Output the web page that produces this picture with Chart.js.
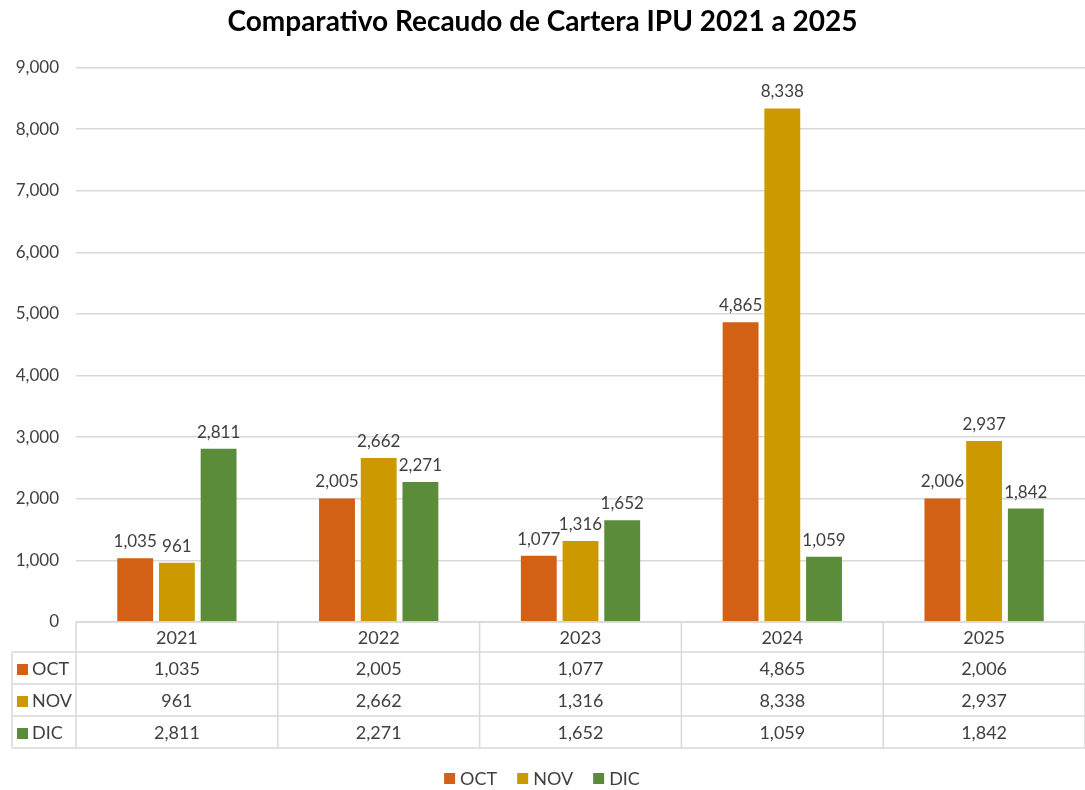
<!DOCTYPE html>
<html>
<head>
<meta charset="utf-8">
<script src="https://cdn.jsdelivr.net/npm/chart.js@4"></script>
<style>
  html, body { margin: 0; padding: 0; background: #fff; }
  #wrap { width: 1085px; height: 790px; }
</style>
</head>
<body>
<div id="wrap"><canvas id="myChart" width="1085" height="790"></canvas></div>
<script>
// datos
const years = ["2021", "2022", "2023", "2024", "2025"];
const octValues = [1035, 2005, 1077, 4865, 2006];
const novValues = [961, 2662, 1316, 8338, 2937];
const dicValues = [2811, 2271, 1652, 1059, 1842];

const seriesNames = ["OCT", "NOV", "DIC"];
const seriesColors = ["#D26015", "#CC9900", "#5B8C3A"];

const FONT = "Lato, 'Open Sans', sans-serif";
const TEXT = "#404040";
const LINE = "#D9D9D9";

const fmt = (v) => v.toLocaleString("en-US");

// valores encima de las barras
const barLabels = {
  id: "barLabels",
  afterDatasetsDraw(chart) {
    const ctx = chart.ctx;
    ctx.save();
    ctx.font = "17px " + FONT;
    ctx.fillStyle = TEXT;
    ctx.textAlign = "center";
    ctx.textBaseline = "bottom";
    chart.data.datasets.forEach((ds, i) => {
      chart.getDatasetMeta(i).data.forEach((bar, j) => {
        ctx.fillText(fmt(ds.data[j]), bar.x, bar.y - 8);
      });
    });
    ctx.restore();
  },
};

// tabla de datos debajo del eje + leyenda
const dataTable = {
  id: "dataTable",
  afterDraw(chart) {
    const ctx = chart.ctx;
    const x = chart.scales.x;
    const area = chart.chartArea;
    const top = area.bottom;
    const rowH = [30, 32, 32, 32];
    const left = 12;
    const right = area.right;
    const catW = (area.right - area.left) / years.length;

    let ys = [top];
    rowH.forEach((h) => ys.push(ys[ys.length - 1] + h));

    ctx.save();
    ctx.strokeStyle = LINE;
    ctx.lineWidth = 1.5;
    ctx.beginPath();
    // horizontales
    ctx.moveTo(area.left, ys[0]); ctx.lineTo(right, ys[0]);
    for (let r = 1; r < ys.length; r++) {
      ctx.moveTo(left, ys[r]); ctx.lineTo(right, ys[r]);
    }
    // verticales
    ctx.moveTo(left, ys[1]); ctx.lineTo(left, ys[4]);
    for (let c = 0; c <= years.length; c++) {
      const vx = area.left + c * catW;
      ctx.moveTo(vx, ys[0]); ctx.lineTo(vx, ys[4]);
    }
    ctx.stroke();

    ctx.font = "18px " + FONT;
    ctx.fillStyle = TEXT;
    ctx.textAlign = "center";
    ctx.textBaseline = "middle";
    years.forEach((y, j) => {
      ctx.fillText(y, x.getPixelForValue(j), (ys[0] + ys[1]) / 2 + 1);
    });
    chart.data.datasets.forEach((ds, i) => {
      const cy = (ys[i + 1] + ys[i + 2]) / 2 + 1;
      ctx.fillStyle = seriesColors[i];
      ctx.fillRect(left + 5, cy - 5, 11, 11);
      ctx.fillStyle = TEXT;
      ctx.textAlign = "left";
      ctx.fillText(seriesNames[i], left + 20, cy);
      ctx.textAlign = "center";
      ds.data.forEach((v, j) => {
        ctx.fillText(fmt(v), x.getPixelForValue(j), cy);
      });
    });

    // leyenda inferior
    const ly = 778;
    const box = 11, gapBox = 5, gapItem = 20;
    ctx.textAlign = "left";
    const widths = seriesNames.map((n) => box + gapBox + ctx.measureText(n).width);
    const total = widths.reduce((a, b) => a + b, 0) + gapItem * (widths.length - 1);
    let lx = 542 - total / 2;
    seriesNames.forEach((n, i) => {
      ctx.fillStyle = seriesColors[i];
      ctx.fillRect(lx, ly - 5, box, box);
      ctx.fillStyle = TEXT;
      ctx.fillText(n, lx + box + gapBox, ly + 1);
      lx += widths[i] + gapItem;
    });
    ctx.restore();
  },
};

const allSeries = [octValues, novValues, dicValues];

const myChart = new Chart("myChart", {
  type: "bar",
  data: {
    labels: years,
    datasets: allSeries.map((vals, i) => ({
      label: seriesNames[i],
      data: vals,
      backgroundColor: seriesColors[i],
      borderWidth: 0,
      barPercentage: 0.86,
      categoryPercentage: 0.62,
    })),
  },
  options: {
    responsive: false,
    animation: false,
    layout: { padding: { left: 0, right: 0, top: 0, bottom: 0 } },
    scales: {
      y: {
        min: 0,
        max: 9000,
        border: { display: false },
        grid: { color: LINE, lineWidth: 1.5, drawTicks: false },
        ticks: {
          stepSize: 1000,
          padding: 17,
          color: TEXT,
          font: { family: FONT, size: 17 },
          callback: (v) => fmt(v),
        },
        afterFit: (s) => { s.width = 76; },
      },
      x: {
        grid: { display: false },
        border: { display: false },
        ticks: { display: false },
        afterFit: (s) => { s.height = 168; },
      },
    },
    plugins: {
      title: {
        display: true,
        text: "Comparativo Recaudo de Cartera IPU 2021 a 2025",
        color: "#000000",
        font: { family: FONT, size: 28, weight: "bold" },
        padding: { top: 5, bottom: 29 },
      },
      legend: { display: false },
      tooltip: { enabled: false },
    },
  },
  plugins: [barLabels, dataTable],
});
</script>
</body>
</html>
